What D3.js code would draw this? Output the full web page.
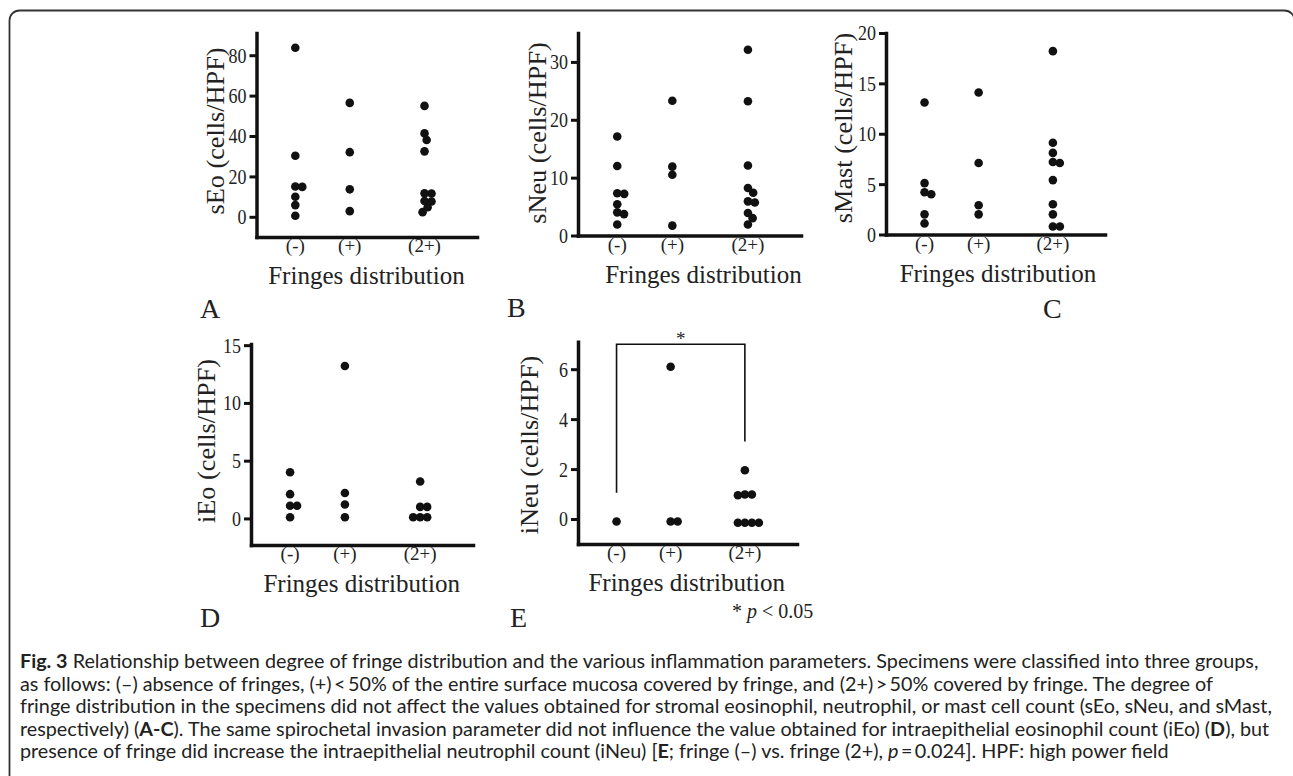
<!DOCTYPE html>
<html>
<head>
<meta charset="utf-8">
<script src="https://cdn.jsdelivr.net/npm/d3@7"></script>
<style>
body { margin: 0; background: #fff; }
svg { display: block; }
</style>
</head>
<body>
<svg id="fig" width="1293" height="776"></svg>
<script>
// groups on the x axis
var groups = ["(-)", "(+)", "(2+)"];

// values per group (cells/HPF)
var sEo = [[83.7, 30.2, 15.0, 14.8, 9.9, 5.8, 0.5], [56.4, 32.0, 13.6, 2.8], [54.9, 41.3, 38.0, 32.4, 11.6, 11.5, 7.8, 7.6, 4.7, 2.3]];
var sNeu = [[17.1, 12.0, 7.3, 7.2, 5.4, 4.0, 3.7, 1.9], [23.3, 11.9, 10.5, 1.7], [32.1, 23.2, 12.1, 8.2, 7.4, 5.9, 5.7, 3.9, 3.0, 1.9]];
var sMast = [[13.1, 5.1, 4.2, 4.0, 2.0, 1.1], [14.1, 7.1, 2.9, 2.0], [18.2, 9.1, 8.1, 7.2, 7.1, 5.4, 3.0, 2.0, 0.8, 0.8]];
var iEo = [[4.0, 2.1, 1.1, 1.1, 0.1], [13.2, 2.2, 1.2, 0.1], [3.2, 1.0, 1.0, 0.1, 0.1, 0.1]];
var iNeu = [[-0.1], [6.1, -0.1, -0.1], [1.95, 0.98, 0.98, 0.95, -0.15, -0.15, -0.15, -0.15]];

// tick labels
var sEoTicks = [0, 20, 40, 60, 80];
var sNeuTicks = [0, 10, 20, 30];
var sMastTicks = [0, 5, 10, 15, 20];
var iEoTicks = [0, 5, 10, 15];
var iNeuTicks = [0, 2, 4, 6];

// significance bracket in E: left end, top, right end
var bracketVals = [1.05, 7.0, 3.1];

var serif = "'Liberation Serif', 'Times New Roman', serif";
var ink = "#111";

var svg = d3.select("#fig");

// frame round the figure
svg.append("rect")
    .attr("x", 9.5).attr("y", 10.5)
    .attr("width", 1285).attr("height", 800)
    .attr("rx", 10)
    .attr("fill", "none")
    .attr("stroke", "#333")
    .attr("stroke-width", 1.8);

var catFrac = [0.176, 0.423, 0.762];

var panels = [
    {id: "A", title: "sEo (cells/HPF)", vals: sEo, ticks: sEoTicks, dom: [-10, 91], left: 256.5, right: 477, top: 33, bottom: 237, labOff: 32.5, labY: 131, xlabX: 366.5, letter: [200, 318]},
    {id: "B", title: "sNeu (cells/HPF)", vals: sNeu, ticks: sNeuTicks, dom: [0, 35], left: 578, right: 801, top: 33, bottom: 235.5, labOff: 32, labY: 133, xlabX: 703.5, letter: [507, 317]},
    {id: "C", title: "sMast (cells/HPF)", vals: sMast, ticks: sMastTicks, dom: [0, 20], left: 886, right: 1105, top: 33, bottom: 234.5, labOff: 34, labY: 128, xlabX: 998, letter: [1043, 318]},
    {id: "D", title: "iEo (cells/HPF)", vals: iEo, ticks: iEoTicks, dom: [-2.3, 15.1], left: 251, right: 473, top: 344, bottom: 545, labOff: 36, labY: 441, xlabX: 361.7, letter: [200, 627]},
    {id: "E", title: "iNeu (cells/HPF)", vals: iNeu, ticks: iNeuTicks, dom: [-1, 7.1], left: 578, right: 797, top: 341.7, bottom: 544, labOff: 40, labY: 445, xlabX: 686.7, letter: [510, 627]}
];

// simple beeswarm: push dots sideways so they do not pile up
function swarm(vals, y, sp) {
    var placed = [];
    return vals.map(function(v) {
        var py = y(v);
        var cands = [0];
        var blocks = [];
        placed.forEach(function(p) {
            var dy = Math.abs(p.y - py);
            if (dy < sp) {
                var hw = Math.sqrt(sp * sp - dy * dy);
                blocks.push([p.dx - hw, p.dx + hw]);
                cands.push(p.dx - hw, p.dx + hw);
            }
        });
        var ok = cands.filter(function(c) {
            return blocks.every(function(b) { return c <= b[0] + 1e-6 || c >= b[1] - 1e-6; });
        });
        ok.sort(function(a, b) { return Math.abs(a) - Math.abs(b) || b - a; });
        placed.push({y: py, dx: ok[0]});
        return {v: v, y: py, dx: ok[0]};
    });
}

var scales = {};

panels.forEach(function(p) {
    var g = svg.append("g");

    var y = d3.scaleLinear().domain(p.dom).range([p.bottom, p.top]);
    var x = d3.scaleOrdinal().domain(groups)
        .range(catFrac.map(function(f) { return p.left + f * (p.right - p.left); }));
    scales[p.id] = {x: x, y: y};

    // y axis
    var yAxis = g.append("g")
        .attr("transform", "translate(" + p.left + ",0)")
        .call(d3.axisLeft(y).tickValues(p.ticks).tickSize(7).tickSizeOuter(0).tickPadding(3));
    yAxis.select(".domain")
        .attr("stroke", ink).attr("stroke-width", 3.5).attr("stroke-linecap", "square");
    yAxis.selectAll(".tick line").attr("stroke", ink).attr("stroke-width", 3);
    // the y axis texts of the figure are drawn a little tall
    yAxis.selectAll(".tick text")
        .attr("fill", "#222")
        .attr("transform", "scale(1,1.2)")
        .style("font-family", serif)
        .style("font-size", "18px");

    // x axis line, no ticks
    var xAxis = g.append("g")
        .attr("transform", "translate(0," + p.bottom + ")")
        .call(d3.axisBottom(d3.scaleLinear().range([p.left, p.right])).ticks(0).tickSizeOuter(0));
    xAxis.select(".domain")
        .attr("stroke", ink).attr("stroke-width", 3.5).attr("stroke-linecap", "square");

    // group labels
    g.selectAll(".cat")
        .data(groups)
        .enter()
        .append("text")
        .attr("x", function(d) { return x(d); })
        .attr("y", p.bottom + 15)
        .attr("text-anchor", "middle")
        .attr("fill", "#222")
        .style("font-family", serif)
        .style("font-size", "19px")
        .text(function(d) { return d; });

    g.append("text")
        .attr("x", p.xlabX)
        .attr("y", p.bottom + 47)
        .attr("text-anchor", "middle")
        .attr("fill", "#222")
        .style("font-family", serif)
        .style("font-size", "25px")
        .text("Fringes distribution");

    g.append("text")
        .attr("transform", "translate(" + (p.left - p.labOff) + "," + p.labY + ") rotate(-90) scale(1.05,1)")
        .attr("text-anchor", "middle")
        .attr("fill", "#222")
        .style("font-family", serif)
        .style("font-size", "25px")
        .text(p.title);

    g.append("text")
        .attr("x", p.letter[0])
        .attr("y", p.letter[1])
        .attr("fill", "#222")
        .style("font-family", serif)
        .style("font-size", "28px")
        .text(p.id);

    // dots
    groups.forEach(function(grp, i) {
        var pts = swarm(p.vals[i], y, 7);
        g.selectAll(".dot" + i)
            .data(pts)
            .enter()
            .append("circle")
            .attr("cx", function(d) { return x(grp) + d.dx; })
            .attr("cy", function(d) { return d.y; })
            .attr("r", 4.3)
            .attr("fill", ink);
    });
});

// significance bracket on E
var sE = scales.E;
var bx0 = sE.x("(-)"), bx1 = sE.x("(2+)");
var bp = d3.path();
bp.moveTo(bx0, sE.y(bracketVals[0]));
bp.lineTo(bx0, sE.y(bracketVals[1]));
bp.lineTo(bx1, sE.y(bracketVals[1]));
bp.lineTo(bx1, sE.y(bracketVals[2]));
svg.append("path")
    .attr("d", bp.toString())
    .attr("fill", "none")
    .attr("stroke", ink)
    .attr("stroke-width", 1.6);

svg.append("text")
    .attr("x", (bx0 + bx1) / 2)
    .attr("y", sE.y(bracketVals[1]) + 1)
    .attr("text-anchor", "middle")
    .attr("fill", "#222")
    .style("font-family", serif)
    .style("font-size", "19px")
    .text("*");

var note = svg.append("text")
    .attr("x", 732)
    .attr("y", 618)
    .attr("fill", "#222")
    .style("font-family", serif)
    .style("font-size", "20px");
note.append("tspan").text("* ");
note.append("tspan").style("font-style", "italic").text("p");
note.append("tspan").text(" < 0.05");

// caption
var caption = [
    [["Fig. 3", "b"], [" Relationship between degree of fringe distribution and the various inflammation parameters. Specimens were classified into three groups,", ""]],
    [["as follows: (\u2013) absence of fringes, (+)\u2009<\u200950% of the entire surface mucosa covered by fringe, and (2+)\u2009>\u200950% covered by fringe. The degree of", ""]],
    [["fringe distribution in the specimens did not affect the values obtained for stromal eosinophil, neutrophil, or mast cell count (sEo, sNeu, and sMast,", ""]],
    [["respectively) (", ""], ["A-C", "b"], ["). The same spirochetal invasion parameter did not influence the value obtained for intraepithelial eosinophil count (iEo) (", ""], ["D", "b"], ["), but", ""]],
    [["presence of fringe did increase the intraepithelial neutrophil count (iNeu) [", ""], ["E", "b"], ["; fringe (\u2013) vs. fringe (2+), ", ""], ["p", "i"], ["\u2009=\u20090.024]. HPF: high power field", ""]]
];
var capBase = [668, 690.5, 713, 735.5, 758];

var capG = svg.append("g")
    .attr("fill", "#222")
    .style("font-family", "Lato, 'Noto Sans', sans-serif")
    .style("font-size", "17px");

var capLines = capG.selectAll("text")
    .data(caption)
    .enter()
    .append("text")
    .attr("x", 20)
    .attr("y", function(d, i) { return capBase[i]; });

capLines.selectAll("tspan")
    .data(function(d) { return d; })
    .enter()
    .append("tspan")
    .style("font-weight", function(d) { return d[1] === "b" ? "bold" : null; })
    .style("font-style", function(d) { return d[1] === "i" ? "italic" : null; })
    .text(function(d) { return d[0]; });

// fit the caption size to the width of the third line
var w3 = capLines.nodes()[2].getComputedTextLength();
capG.style("font-size", (17 * 1252 / w3).toFixed(2) + "px");
</script>
</body>
</html>
